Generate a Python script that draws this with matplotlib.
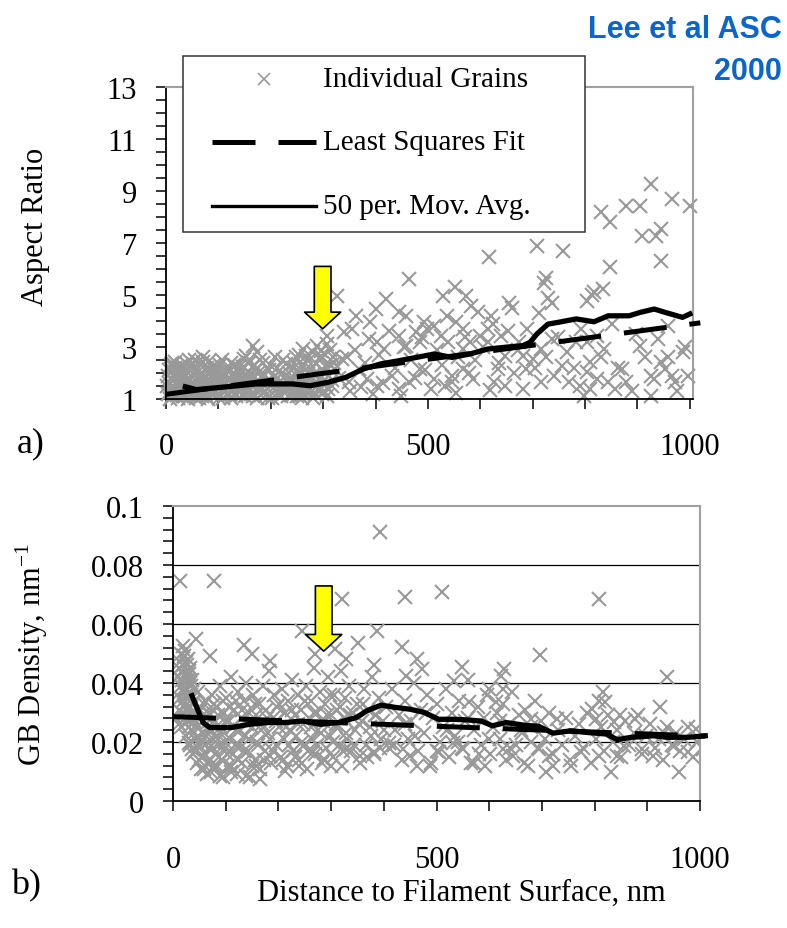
import matplotlib
matplotlib.use("Agg")
import matplotlib.pyplot as plt
from matplotlib.patches import Rectangle
import numpy as np

plt.rcParams["font.family"] = ["Liberation Serif", "DejaVu Serif"]
plt.rcParams["mathtext.fontset"] = "custom"
plt.rcParams["mathtext.rm"] = "Liberation Serif"

GREY = "#999999"

# ---- panel a: aspect ratio vs distance ----
a_x = [3, 5, 6, 8, 9, 11, 12, 14, 15, 17, 18, 20, 22, 23, 25, 27, 28, 30, 32, 33, 35, 37, 38, 40,
       42, 43, 45, 47, 48, 50, 52, 54, 55, 57, 59, 60, 62, 64, 66, 68, 70, 72, 74, 76, 78, 80, 82,
       84, 86, 88, 90, 93, 95, 97, 100, 103, 105, 108, 110, 113, 115, 118, 120, 123, 125, 128, 130,
       133, 135, 138, 140, 143, 146, 148, 150, 153, 156, 158, 160, 163, 166, 168, 170, 173, 176,
       178, 181, 184, 186, 189, 192, 195, 197, 200, 203, 206, 209, 212, 215, 218, 221, 224, 227,
       230, 233, 236, 239, 242, 245, 248, 251, 254, 257, 260, 263, 266, 269, 272, 275, 278, 281,
       284, 287, 290, 293, 296, 299, 302, 305, 308, 311, 314, 317, 320,
       330, 345, 352, 360, 372, 380, 388, 395, 407, 415, 425, 437, 448, 455, 468, 475, 488, 495,
       505, 518, 526, 537, 545, 558, 570, 578, 590, 605, 618, 625, 636, 652, 664, 672, 690, 705,
       712, 725, 740, 748, 765, 778, 792, 798, 830, 852, 862, 890, 898, 915, 925, 940, 958, 975,
       990, 996,
       925, 966, 1000, 830, 878, 905, 847, 908, 935, 945, 945, 708, 757, 617, 847, 464, 725, 722,
       552, 529, 573, 326, 420, 729, 736, 817, 834, 803, 813, 654, 661, 583, 596, 620, 400, 444,
       458, 362, 492, 498, 478, 390, 356, 339, 308, 288, 261, 295, 248, 166, 153, 173, 132, 71,
       51, 17, 10, 92, 959, 986, 905, 945, 952, 966, 932, 972, 925, 756, 823, 803, 783, 837, 810,
       803, 823, 844, 790, 810, 871, 878, 858, 770, 715, 688, 701, 715, 681, 736, 647, 634, 627,
       647, 600, 580, 566, 614, 566, 586, 546, 532, 553, 512, 485, 464, 444, 431, 403, 383, 369,
       349, 336, 322, 282, 255, 403, 417, 444, 458, 485, 512, 525, 539, 553, 566, 614, 640, 674,
       681]
a_y = [1.2, 1.6, 2.1, 1.3, 1.8, 1.1, 2.4, 1.5, 1.9, 1.2, 2.2, 1.4, 1.7, 1.05, 2.0, 1.3, 1.6, 2.3,
       1.1, 1.8, 1.45, 2.1, 1.25, 1.7, 1.0, 2.5, 1.35, 1.9, 1.15, 1.6, 2.2, 1.3, 1.75, 1.05, 2.0,
       1.5, 1.2, 2.35, 1.65, 1.1, 1.9, 1.4, 2.15, 1.25, 1.7, 1.0, 2.45, 1.55, 1.3, 1.85, 1.15, 2.05,
       1.45, 1.7, 1.2, 2.3, 1.6, 1.05, 1.9, 1.35, 2.1, 1.5, 1.2, 1.75, 2.4, 1.3, 1.95, 1.1, 1.6,
       2.2, 1.4, 1.8, 1.15, 2.55, 1.5, 1.25, 1.9, 2.05, 1.35, 1.7, 1.1, 2.3, 1.55, 1.3, 2.0, 1.45,
       1.15, 1.8, 2.4, 1.3, 1.65, 1.05, 2.1, 1.5, 1.25, 1.85, 2.6, 1.4, 1.15, 1.7, 2.0, 1.3, 1.55,
       2.35, 1.1, 1.8, 1.45, 2.2, 1.2, 1.6, 1.9, 2.7, 1.35, 1.05, 1.75, 2.1, 1.5, 2.45, 1.25, 1.85,
       2.8, 1.6, 1.15, 2.0, 1.4, 2.55, 1.7, 1.3, 2.25, 1.1, 1.9, 2.9, 1.5, 2.4,
       1.8, 2.6, 1.3, 2.9, 1.45, 2.4, 3.3, 1.2, 2.7, 1.6, 3.6, 2.2, 1.1, 3.0, 2.5, 1.8, 3.4, 2.1,
       1.4, 2.9, 2.3, 4.2, 1.9, 2.6, 3.4, 2.0, 2.5, 3.0, 1.35, 3.9, 2.4, 3.6, 2.0, 2.9, 3.7, 2.2,
       4.3, 2.6, 1.9, 3.4, 2.8, 2.2, 3.7, 1.1, 2.6, 3.9, 2.2, 1.3, 3.5, 2.6, 1.9, 3.3, 2.6, 1.3,
       3.0, 1.9,
       9.27, 8.69, 8.44, 8.18, 8.44, 8.44, 7.79, 7.28, 7.28, 7.54, 6.32, 6.9, 6.7, 6.45, 6.06,
       5.61, 5.67, 5.48, 5.29, 4.97, 4.97, 4.97, 4.84, 4.9, 4.7, 5.1, 5.22, 4.78, 5.0, 4.7, 4.5,
       4.57, 4.33, 4.2, 4.45, 4.33, 4.2, 4.2, 3.95, 3.69, 3.56, 3.95, 3.69, 3.56, 3.44, 3.05,
       2.92, 2.67, 2.6, 3.05, 2.67, 2.79, 2.28, 2.41, 2.34, 2.41, 2.15, 2.15, 3.82, 2.79, 3.05,
       2.41, 2.15, 1.9, 1.77, 1.64, 1.13, 2.28, 3.44, 3.18, 3.18, 2.92, 2.41, 2.02, 1.77, 1.64,
       1.51, 1.38, 2.15, 1.64, 1.38, 1.64, 1.64, 2.15, 2.54, 2.92, 1.38, 3.31, 2.67, 2.15, 1.64,
       1.51, 3.44, 3.18, 2.92, 3.18, 2.15, 1.77, 1.64, 1.51, 1.25, 1.77, 2.15, 1.64, 1.38, 1.9,
       1.51, 1.77, 2.15, 1.64, 2.54, 2.15, 1.25, 1.13, 3.18, 2.92, 3.44, 3.05, 3.18, 3.82, 3.44,
       3.18, 3.95, 3.69, 3.69, 3.44, 3.18, 2.67]
# second pass over the dense band near the surface
a_x_dense = [2, 4, 7, 10, 13, 16, 19, 21, 24, 26, 29, 31, 34, 36, 39, 41, 44, 46, 49, 51, 53, 56,
             58, 61, 63, 65, 67, 69, 71, 73, 75, 77, 79, 81, 83, 85, 87, 89, 91, 94, 96, 99, 101,
             104, 106, 109, 112, 114, 117, 119, 122, 124, 127, 129, 132, 134, 137, 139, 142, 145,
             147, 151, 154, 157, 159, 162, 165, 167, 171, 174, 177, 180, 183, 187, 190, 194, 198,
             202, 205, 208, 211, 214, 217, 220, 223, 226, 229, 232, 235, 238, 241, 244, 247, 250,
             253, 256, 259, 262, 265, 268, 271, 274, 277, 280, 283, 286, 289, 292, 295, 298, 301,
             304, 307, 310, 313, 316, 319]
a_y_dense = [1.5, 1.9, 1.0, 2.3, 1.7, 1.35, 1.95, 1.15, 2.25, 1.55, 1.85, 1.4, 2.0, 1.1, 1.6,
             2.35, 1.25, 1.75, 1.45, 1.95, 1.1, 2.5, 1.4, 1.8, 1.05, 1.55, 2.0, 1.3, 2.6, 1.6,
             1.85, 1.1, 2.2, 1.45, 1.75, 2.05, 1.2, 1.6, 2.3, 1.35, 1.9, 1.55, 1.05, 1.8, 2.5,
             1.3, 1.65, 1.95, 1.2, 2.15, 1.45, 1.05, 1.65, 2.3, 1.5, 1.2, 1.85, 2.0, 1.3, 1.6,
             2.25, 1.1, 1.75, 1.45, 2.4, 1.2, 1.9, 1.55, 2.15, 1.05, 1.7, 2.5, 1.4, 1.95, 1.15,
             1.75, 2.3, 1.05, 1.6, 1.9, 2.2, 1.25, 1.5, 1.1, 2.5, 1.85, 1.35, 1.65, 2.0, 1.15,
             1.75, 2.4, 1.45, 1.1, 2.05, 1.65, 2.3, 1.2, 1.55, 2.65, 1.8, 1.4, 2.15, 1.05, 1.95,
             2.4, 1.5, 1.75, 2.85, 1.2, 2.05, 1.55, 3.1, 1.4, 2.3, 1.75, 2.6]

a_ma_x = [37, 58, 105, 173, 241, 275, 309, 343, 376, 410, 444, 478, 512, 546, 580, 614, 647,
          681, 695, 708, 729, 749, 783, 817, 844, 884, 905, 932, 953, 986, 1000]
a_ma_y = [1.47, 1.36, 1.45, 1.58, 1.58, 1.51, 1.64, 1.83, 2.15, 2.35, 2.47, 2.6, 2.73, 2.6,
          2.73, 2.92, 2.99, 3.05, 3.18, 3.5, 3.88, 3.95, 4.08, 3.97, 4.2, 4.2, 4.33, 4.46, 4.33,
          4.14, 4.27]
a_fit_x = [0, 1020]
a_fit_y = [1.18, 3.93]

# ---- panel b: GB density vs distance ----
b_x = [5, 8, 10, 12, 13, 15, 16, 18, 19, 20, 21, 22, 23, 24, 25, 26, 27, 28, 29, 30, 31, 32, 33,
       34, 35, 36, 37, 38, 39, 40, 42, 43, 45, 46, 48, 50, 52, 54, 56, 58, 60, 62, 64, 66, 68, 70,
       72, 74, 76, 78, 80, 82, 85, 87, 89, 92, 94, 96, 99, 101, 104, 106, 109, 111, 114, 116, 119,
       121, 124, 126, 129, 131, 134, 137, 139, 142, 144, 147, 149, 152, 155, 157, 160, 163, 166,
       168, 171, 174, 177, 180, 183, 186, 189, 192, 195, 198, 201, 204, 207, 210, 213, 216, 219,
       222, 225, 228, 231, 234, 237, 240, 243, 246, 249, 252, 255, 258, 261, 264, 267, 270, 273,
       276, 279, 282, 285, 288, 291, 294, 297, 300, 303, 306, 309, 312, 315, 318, 321, 324, 327,
       330, 334, 338, 342, 346, 350, 354, 358, 362, 366, 370, 374, 378, 382, 386, 390, 394, 398,
       404, 410, 416, 422, 428, 434, 440, 446, 452, 458, 464, 470, 476, 482, 488, 494, 500, 506,
       512, 518, 524, 530, 536, 542, 548, 554, 560, 566, 572, 578, 584, 590, 596, 602, 608, 614,
       620, 626, 632, 638, 644, 650, 656, 662, 668, 674, 680, 686, 692, 698, 706, 714, 722, 730,
       738, 746, 754, 762, 770, 778, 786, 794, 802, 808, 812, 818, 826, 834, 842, 850, 858, 866,
       874, 882, 890, 898, 906, 914, 922, 930, 938, 946, 954, 962, 970, 978, 986, 994,
       392, 13, 78, 321, 440, 511, 809, 245, 388, 435, 696, 938, 43, 19, 70, 135, 150, 185, 270,
       307, 328, 351, 382, 463, 473, 443, 548, 534, 629, 622, 626, 599, 561, 612, 816, 819, 924,
       680, 728, 992, 931, 849, 877, 836, 795, 802, 961, 832, 910, 978, 1005, 951, 890, 843, 856,
       809, 775, 755, 721, 707, 714, 666, 694, 646, 626, 592, 572, 551, 531, 504, 490, 463, 450,
       436, 409, 382, 355, 328, 300, 287, 266, 246, 240, 213, 185, 165, 158, 138, 111, 90, 77,
       57, 36, 30]
b_y = [0.028, 0.036, 0.042, 0.031, 0.047, 0.039, 0.025, 0.044, 0.034, 0.029, 0.049, 0.038, 0.043,
       0.022, 0.036, 0.046, 0.031, 0.041, 0.027, 0.035, 0.044, 0.019, 0.032, 0.039, 0.024, 0.030,
       0.041, 0.016, 0.027, 0.034, 0.021, 0.030, 0.025, 0.013, 0.037, 0.019, 0.028, 0.011, 0.023,
       0.033, 0.016, 0.026, 0.009, 0.020, 0.030, 0.014, 0.024, 0.036, 0.018, 0.027, 0.011, 0.032,
       0.021, 0.015, 0.039, 0.025, 0.008, 0.030, 0.018, 0.035, 0.012, 0.027, 0.021, 0.042, 0.016,
       0.031, 0.024, 0.009, 0.037, 0.019, 0.028, 0.013, 0.034, 0.022, 0.040, 0.017, 0.030, 0.008,
       0.025, 0.036, 0.014, 0.029, 0.020, 0.033, 0.011, 0.026, 0.039, 0.017, 0.031, 0.023, 0.044,
       0.013, 0.028, 0.036, 0.019, 0.032, 0.025, 0.015, 0.038, 0.021, 0.030, 0.012, 0.034, 0.024,
       0.041, 0.017, 0.029, 0.022, 0.036, 0.014, 0.031, 0.026, 0.019, 0.039, 0.011, 0.028, 0.034,
       0.021, 0.045, 0.016, 0.030, 0.024, 0.037, 0.013, 0.027, 0.033, 0.018, 0.042, 0.022, 0.029,
       0.015, 0.036, 0.025, 0.031, 0.019, 0.044, 0.012, 0.028, 0.035, 0.021, 0.039, 0.017, 0.030,
       0.024, 0.033, 0.013, 0.027, 0.038, 0.019, 0.031, 0.025, 0.042, 0.016, 0.029, 0.035, 0.021,
       0.027,
       0.032, 0.018, 0.038, 0.024, 0.029, 0.014, 0.034, 0.021, 0.027, 0.040, 0.017, 0.031, 0.023,
       0.036, 0.012, 0.028, 0.033, 0.020, 0.025, 0.038, 0.015, 0.030, 0.022, 0.034, 0.018, 0.027,
       0.041, 0.013, 0.024, 0.032, 0.019, 0.028, 0.036, 0.016, 0.025, 0.030, 0.021, 0.033, 0.014,
       0.026, 0.037, 0.019, 0.029, 0.023, 0.031, 0.012, 0.025, 0.034, 0.018, 0.027, 0.021, 0.030,
       0.016, 0.024, 0.019, 0.028, 0.014, 0.022, 0.026, 0.018, 0.030, 0.013, 0.021, 0.034, 0.025,
       0.017, 0.029, 0.020, 0.024, 0.015, 0.027, 0.019, 0.023, 0.029, 0.016, 0.022, 0.026, 0.018,
       0.021, 0.014, 0.025, 0.019, 0.023, 0.017, 0.021, 0.025, 0.015, 0.020,
       0.0913, 0.0747, 0.0747, 0.0685, 0.0691, 0.071, 0.0685, 0.0577, 0.0577, 0.0521, 0.0495,
       0.042, 0.0549, 0.0527, 0.0493, 0.0528, 0.0498, 0.0476, 0.0498, 0.0515, 0.048, 0.0537,
       0.046, 0.048, 0.0447, 0.0424, 0.0453, 0.0408, 0.0447, 0.0424, 0.038, 0.038, 0.0334,
       0.0334, 0.0368, 0.0334, 0.0317, 0.0278, 0.0278, 0.0244, 0.0232, 0.029, 0.0278, 0.0267,
       0.0312, 0.0278, 0.0097, 0.0097, 0.0153, 0.0165, 0.0176, 0.0187, 0.0176, 0.0153, 0.0187,
       0.0153, 0.0165, 0.0119, 0.0119, 0.0097, 0.0153, 0.013, 0.0176, 0.0153, 0.0176, 0.0119,
       0.013, 0.0176, 0.0198, 0.0165, 0.013, 0.0119, 0.0153, 0.0176, 0.0198, 0.0165, 0.0153,
       0.0176, 0.0119, 0.0142, 0.0165, 0.0187, 0.0119, 0.0102, 0.0153, 0.0074, 0.0119, 0.0085,
       0.0097, 0.0085, 0.0119, 0.0153, 0.0176, 0.0198]
# second pass: the packed column right at the surface and the band behind it
b_x_dense = [11, 12, 14, 15, 17, 17, 19, 20, 21, 22, 23, 24, 25, 26, 27, 28, 29, 30, 31, 32, 33,
             34, 35, 36, 37, 38, 39, 40, 41, 44, 47, 49, 51, 53, 55, 57, 59, 61, 63, 65, 67, 69,
             71, 73, 75, 77, 79, 81, 84, 86, 88, 90, 93, 95, 98, 100, 103, 107, 110, 113, 117,
             120, 123, 127, 130, 135, 140, 145, 150, 156, 162, 167, 172, 178, 184, 190, 196, 202,
             208, 214, 220, 226, 232, 238, 244, 250, 256, 262, 268, 274, 280, 286, 292, 298, 304,
             310, 316, 322, 328, 336, 344, 352, 360, 368, 376, 384, 392, 400, 420, 440, 460, 480,
             500, 520, 540, 560, 580, 600, 620, 640, 660, 680]
b_y_dense = [0.026, 0.045, 0.035, 0.050, 0.041, 0.030, 0.046, 0.037, 0.032, 0.051, 0.028, 0.047,
             0.042, 0.033, 0.038, 0.048, 0.036, 0.043, 0.025, 0.040, 0.045, 0.029, 0.036, 0.020,
             0.033, 0.028, 0.038, 0.023, 0.017, 0.029, 0.022, 0.014, 0.031, 0.020, 0.015, 0.027,
             0.011, 0.034, 0.022, 0.013, 0.024, 0.018, 0.029, 0.010, 0.021, 0.033, 0.016, 0.025,
             0.012, 0.029, 0.019, 0.023, 0.014, 0.034, 0.020, 0.027, 0.016, 0.032, 0.012, 0.025,
             0.019, 0.034, 0.014, 0.024, 0.031, 0.017, 0.026, 0.021, 0.012, 0.033, 0.019, 0.024,
             0.014, 0.028, 0.021, 0.017, 0.027, 0.033, 0.014, 0.025, 0.019, 0.031, 0.015, 0.026,
             0.020, 0.034, 0.017, 0.025, 0.030, 0.019, 0.023, 0.014, 0.029, 0.036, 0.020, 0.026,
             0.032, 0.017, 0.023, 0.029, 0.019, 0.026, 0.033, 0.015, 0.022, 0.029, 0.018, 0.024,
             0.019, 0.026, 0.022, 0.030, 0.017, 0.024, 0.020, 0.028, 0.016, 0.021, 0.027, 0.018,
             0.024, 0.020]

b_ma_x = [36, 43, 57, 70, 111, 145, 179, 213, 246, 280, 314, 348, 368, 395, 423, 450, 477, 504,
          531, 558, 585, 606, 632, 666, 694, 721, 755, 788, 822, 843, 870, 911, 938, 978, 1010]
b_ma_y = [0.0357, 0.0326, 0.0266, 0.0249, 0.0249, 0.026, 0.0266, 0.0266, 0.0271, 0.026, 0.0266,
          0.0283, 0.0306, 0.0325, 0.0317, 0.0311, 0.030, 0.0277, 0.0277, 0.0275, 0.0271, 0.0255,
          0.0266, 0.0257, 0.0253, 0.023, 0.0238, 0.0232, 0.0227, 0.0208, 0.0216, 0.0221, 0.0216,
          0.0216, 0.0221]
b_fit_x = [0, 1010]
b_fit_y = [0.0286, 0.0220]

W, H = 787, 929
fig = plt.figure(figsize=(W / 100, H / 100), dpi=100)


def px_axes(left, top, right, bottom):
    return fig.add_axes([left / W, 1 - bottom / H, (right - left) / W, (bottom - top) / H])


def style(ax):
    for s in ("left", "bottom"):
        ax.spines[s].set_color("black")
        ax.spines[s].set_linewidth(1.3)
    for s in ("top", "right"):
        ax.spines[s].set_color("#a0a0a0")
        ax.spines[s].set_linewidth(1.5)
    ax.tick_params(which="both", direction="out", length=7, width=1.1, top=False, right=False,
                   labelsize=22)


mk = dict(marker="x", color=GREY, markersize=10.5, mew=1.5, ls="none", zorder=2)
fit_kw = dict(color="black", lw=3.6, dashes=(8.6, 4.6), zorder=3, solid_capstyle="butt")
ma_kw = dict(color="black", lw=3.8, zorder=4)
arrow_props = dict(arrowstyle="simple,head_length=1.2,head_width=2.6,tail_width=1.2",
                   mutation_scale=10, fc="#ffff00", ec="black", lw=1.2, shrinkA=0, shrinkB=0)

# panel a
ax1 = px_axes(166, 88, 693, 400)
style(ax1)
ax1.plot(a_x, a_y, **mk, clip_on=False)
ax1.plot(a_x_dense, a_y_dense, **mk, clip_on=False)
ax1.plot(a_fit_x, a_fit_y, clip_on=False, **fit_kw)
ax1.plot(a_ma_x, a_ma_y, **ma_kw)
ax1.set_xlim(0, 1006)
ax1.set_ylim(1, 13)
ax1.set_yticks(np.arange(1, 14, 2))
ax1.set_yticks(np.arange(1, 13.01, 0.5), minor=True)
ax1.set_xticks([0, 500, 1000])
ax1.set_xticks(np.arange(0, 1001, 100), minor=True)
ax1.tick_params(axis="y", pad=14)
ax1.tick_params(axis="x", pad=17)
ax1.set_ylabel("Aspect Ratio", fontsize=22)
ax1.yaxis.set_label_coords(-0.22, 0.554)
ax1.annotate("", xy=(299, 3.7), xytext=(299, 6.1), arrowprops=arrow_props, zorder=6)


# hand-drawn legend box (sits over the top of panel a)
def lx(px):
    return (px - 166) / 527


def ly(py):
    return (400 - py) / 312


ax1.add_patch(Rectangle((lx(183), ly(233)), lx(585) - lx(183), ly(57) - ly(233),
                        transform=ax1.transAxes, fc="white", ec="#333333", lw=1.1,
                        clip_on=False, zorder=7))
ax1.plot([lx(264)], [ly(80)], transform=ax1.transAxes, clip_on=False,
         **{**mk, "markersize": 9, "mew": 1.2, "zorder": 8})
ax1.plot([lx(212), lx(316)], [ly(143)] * 2, transform=ax1.transAxes, clip_on=False,
         **{**fit_kw, "zorder": 8})
ax1.plot([lx(212), lx(316)], [ly(207)] * 2, transform=ax1.transAxes, clip_on=False,
         color="black", lw=2.4, zorder=8)
for py, t in [(80, "Individual Grains"), (143, "Least Squares Fit"),
              (207, "50 per. Mov. Avg.")]:
    ax1.text(lx(323), ly(py), t, transform=ax1.transAxes, fontsize=21, va="center",
             ha="left", zorder=9)

# panel b
ax2 = px_axes(173, 507, 700, 802)
style(ax2)
ax2.set_xlim(0, 1000)
ax2.set_ylim(0, 0.1)
yt = [0, 0.02, 0.04, 0.06, 0.08, 0.1]
ax2.set_yticks(yt)
ax2.set_yticklabels(["0", "0.02", "0.04", "0.06", "0.08", "0.1"])
ax2.set_yticks(np.arange(0, 0.1001, 0.004), minor=True)
for v in yt[1:-1]:
    ax2.axhline(v, color="black", lw=0.9, zorder=1)
ax2.plot(b_x, b_y, **mk)
ax2.plot(b_x_dense, b_y_dense, **mk)
ax2.plot(b_fit_x, b_fit_y, clip_on=False, **fit_kw)
ax2.plot(b_ma_x, b_ma_y, clip_on=False, **ma_kw)
ax2.set_xticks([0, 500, 1000])
ax2.set_xticks(np.arange(0, 1001, 100), minor=True)
ax2.tick_params(axis="y", pad=14)
ax2.tick_params(axis="x", pad=25)
ax2.set_ylabel(r"GB Density, nm$\mathregular{^{-1}}$", fontsize=22)
ax2.yaxis.set_label_coords(-0.233, 0.5)
ax2.annotate("", xy=(286, 0.0508), xytext=(286, 0.0729), arrowprops=arrow_props, zorder=6)

fig.text(461 / W, 1 - 893 / H, "Distance to Filament Surface, nm", fontsize=22,
         ha="center", va="center")
fig.text(31 / W, 1 - 444 / H, "a)", fontsize=26, ha="center", va="center")
fig.text(26 / W, 1 - 886 / H, "b)", fontsize=26, ha="center", va="center")

blue = dict(color="#0a66cc", fontsize=22, fontweight="bold", ha="right", va="center",
            family=["Liberation Sans", "DejaVu Sans"])
fig.text(782 / W, 1 - 30 / H, "Lee et al ASC", **blue)
fig.text(782 / W, 1 - 72 / H, "2000", **blue)

fig.savefig("out.png", dpi=100)
